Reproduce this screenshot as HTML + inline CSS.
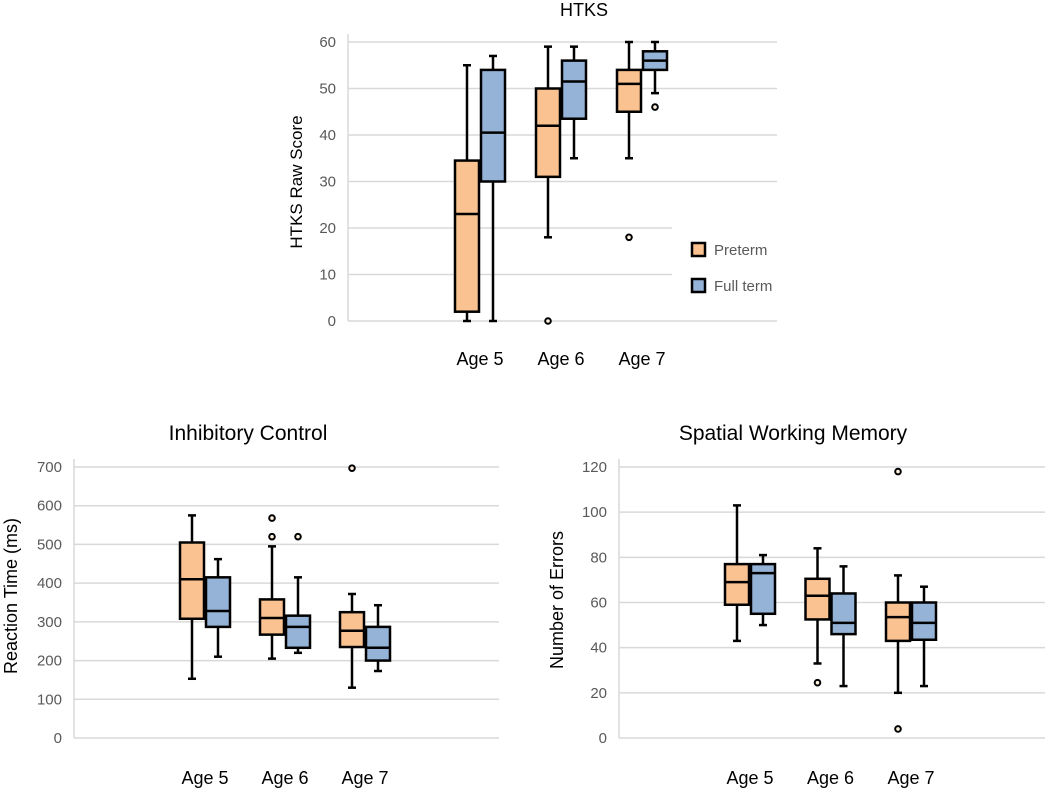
<!DOCTYPE html>
<html><head><meta charset="utf-8"><style>
body{margin:0;background:#fff;}
svg{display:block;font-family:"Liberation Sans",sans-serif;}
</style></head><body>
<svg id="s" width="1045" height="788"></svg>
<script>
const categories = ["Age 5","Age 6","Age 7"];
// HTKS [min,q1,med,q3,max]
const htksPreterm = [[0,2,23,34.5,55],[18,31,42,50,59],[35,45,51,54,60]];
const htksFullterm = [[0,30,40.5,54,57],[35,43.5,51.5,56,59],[49,54,56,58,60]];
const htksPretermOut = [[],[0],[18]];
const htksFulltermOut = [[],[],[46]];
const htksTicks = [0,10,20,30,40,50,60];
// Inhibitory control
const icPreterm = [[153,308,410,505,575],[205,267,310,358,495],[130,235,277,325,372]];
const icFullterm = [[210,287,328,415,462],[220,233,287,316,415],[173,200,233,287,343]];
const icPretermOut = [[],[520,568],[697]];
const icFulltermOut = [[],[520],[]];
const icTicks = [0,100,200,300,400,500,600,700];
// Spatial working memory
const swmPreterm = [[43,59,69,77,103],[33,52.5,63,70.5,84],[20,43,53.5,60,72]];
const swmFullterm = [[50,55,73,77,81],[23,46,51,64,76],[23,43.5,51,60,67]];
const swmPretermOut = [[],[24.5],[118,4]];
const swmFulltermOut = [[],[],[]];
const swmTicks = [0,20,40,60,80,100,120];

const NS="http://www.w3.org/2000/svg";
const svg=document.getElementById('s');
function mk(tag,attrs,parent,text){const e=document.createElementNS(NS,tag);for(const k in attrs)e.setAttribute(k,attrs[k]);if(text!==undefined)e.textContent=text;(parent||svg).appendChild(e);return e;}

function drawChart(cfg){
  const g=mk('g',{});
  
  
  const ymax=cfg.ticks[cfg.ticks.length-1];
  const y=v=>cfg.y0-(v/ymax)*(cfg.y0-cfg.yTop);
  const xc=i=>cfg.gx0+i*cfg.gstep;
  cfg.ticks.forEach((t,i)=>{
    const x2=(cfg.shortGrid&&cfg.shortGrid.indexOf(t)>=0)?cfg.shortX:cfg.x1;
    const l=mk('line',{x1:cfg.x0,x2:x2,y1:y(t),y2:y(t),stroke:'#d9d9d9','stroke-width':1.5},g);
    
    
    const tx=mk('text',{x:cfg.x0-12,y:y(t)+5,'text-anchor':'end','font-size':15,fill:'#595959'},g,t);
    
    
  });
  const ax=mk('line',{x1:cfg.x0,x2:cfg.x0,y1:cfg.yTop-8,y2:cfg.y0,stroke:'#d9d9d9','stroke-width':1.5},g);
  
  
  categories.forEach((c,i)=>{
    const t=mk('text',{x:xc(i),y:cfg.catY,'text-anchor':'middle','font-size':18,fill:'#000'},g,c);
    
    
  });
  const tt=mk('text',{x:cfg.titleX,y:cfg.titleY,'text-anchor':'middle','font-size':cfg.titleSize,fill:'#000'},g,cfg.title);
  
  
  const yt=mk('text',{x:0,y:0,transform:`translate(${cfg.ytX},${cfg.ytY}) rotate(-90)`,'text-anchor':'middle','font-size':cfg.ytSize,fill:'#000'},g,cfg.ytitle);
  
  
  const series=[[cfg.pre,cfg.preOut,'#f9c290',-1],[cfg.full,cfg.fullOut,'#95b3d7',1]];
  const bw=cfg.bw;
  series.forEach(([data,outs,col,side])=>{
    data.forEach((d,i)=>{
      const cx=xc(i)+side*(bw/2+1);
      const [mn,q1,md,q3,mx]=d;
      const w1=mk('line',{x1:cx,x2:cx,y1:y(mx),y2:y(q3),stroke:'#000','stroke-width':2.5},g);
      
      
      const w2=mk('line',{x1:cx,x2:cx,y1:y(q1),y2:y(mn),stroke:'#000','stroke-width':2.5},g);
      
      
      [mx,mn].forEach(v=>{
        const cap=mk('line',{x1:cx-4,x2:cx+4,y1:y(v),y2:y(v),stroke:'#000','stroke-width':2.5},g);
        
        
      });
      const b=mk('rect',{x:cx-bw/2,y:y(q3),width:bw,height:y(q1)-y(q3),fill:col,stroke:'#000','stroke-width':2.5},g);
      
      
      const m=mk('line',{x1:cx-bw/2,x2:cx+bw/2,y1:y(md),y2:y(md),stroke:'#000','stroke-width':2.5},g);
      
      
      outs[i].forEach(v=>{
        const o=mk('circle',{cx:cx,cy:y(v),r:2.8,fill:'#fff3e0',stroke:'#000','stroke-width':2},g);
        
        
      });
    });
  });
}

drawChart({name:'htks-chart',title:'HTKS',titleX:584,titleY:16,titleSize:18,ytitle:'HTKS Raw Score',ytX:302,ytY:182,ytSize:17,
  x0:348,x1:777,yTop:42,y0:321,ticks:htksTicks,gx0:480,gstep:81,bw:24,catY:365,shortGrid:[10,20],shortX:672,
  pre:htksPreterm,full:htksFullterm,preOut:htksPretermOut,fullOut:htksFulltermOut});
drawChart({name:'inhibitory-control-chart',title:'Inhibitory Control',titleX:248,titleY:440,titleSize:21,ytitle:'Reaction Time (ms)',ytX:17,ytY:596,ytSize:18,
  x0:74,x1:499,yTop:467,y0:738,ticks:icTicks,gx0:205,gstep:80,bw:24,catY:784,
  pre:icPreterm,full:icFullterm,preOut:icPretermOut,fullOut:icFulltermOut});
drawChart({name:'spatial-working-memory-chart',title:'Spatial Working Memory',titleX:793,titleY:440,titleSize:21,ytitle:'Number of Errors',ytX:563,ytY:600,ytSize:18,
  x0:619,x1:1045,yTop:467,y0:738,ticks:swmTicks,gx0:750,gstep:80.5,bw:24,catY:784,
  pre:swmPreterm,full:swmFullterm,preOut:swmPretermOut,fullOut:swmFulltermOut});

const lg=mk('g',{});


[['Preterm','#f9c290',243],['Full term','#95b3d7',279]].forEach(([lab,col,yy])=>{
  const r=mk('rect',{x:692,y:yy,width:13,height:13,fill:col,stroke:'#000','stroke-width':2.5},lg);
  
  
  const t=mk('text',{x:714,y:yy+12,'font-size':15,fill:'#595959'},lg,lab);
  
  
});
</script>
</body></html>
